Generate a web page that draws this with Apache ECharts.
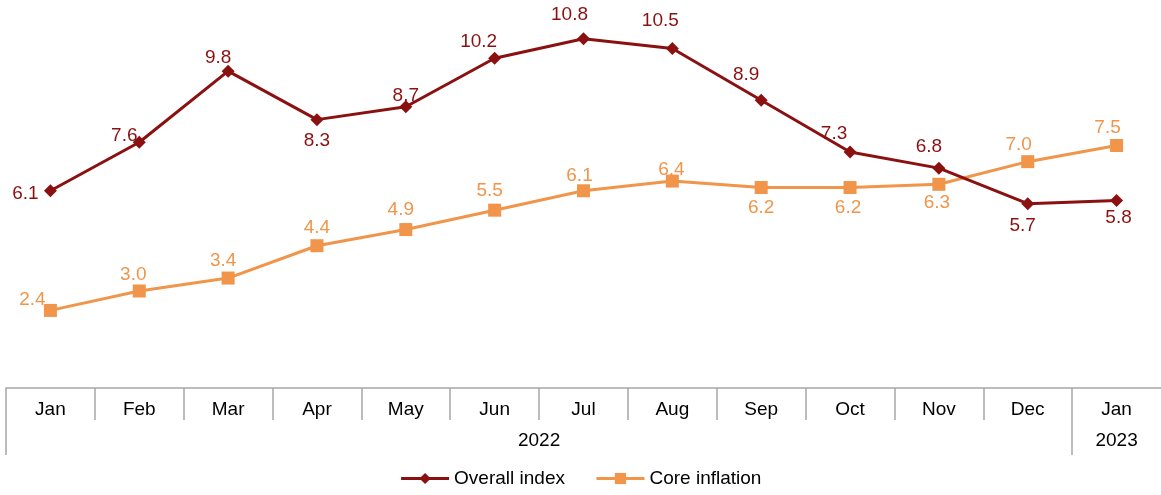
<!DOCTYPE html>
<html>
<head>
<meta charset="utf-8">
<script src="https://cdn.jsdelivr.net/npm/echarts@6/dist/echarts.min.js"></script>
<style>
  html, body { margin: 0; padding: 0; background: #fff; }
  #chart { width: 1161px; height: 495px; }
</style>
</head>
<body>
<div id="chart"></div>
<script>
const months = ["Jan", "Feb", "Mar", "Apr", "May", "Jun", "Jul", "Aug", "Sep", "Oct", "Nov", "Dec", "Jan"];
const overallIndex = [6.1, 7.6, 9.8, 8.3, 8.7, 10.2, 10.8, 10.5, 8.9, 7.3, 6.8, 5.7, 5.8];
const coreInflation = [2.4, 3.0, 3.4, 4.4, 4.9, 5.5, 6.1, 6.4, 6.2, 6.2, 6.3, 7.0, 7.5];

// label shift from each point, [dx, dy] in px (labels were hand placed in the original)
const overallShift = [[-25, 0], [-15, -10], [-10, -16], [0, 18], [0, -14], [-16, -19], [-14, -27],
  [-12, -31], [-15, -28], [-16, -21], [-10, -24], [-5, 19], [2, 14]];
const coreShift = [[-18, -14], [-6, -19], [-5, -20], [0, -21], [-5, -23], [-5, -22], [-4, -18],
  [-1, -14], [0, 17], [-2, 17], [-2, 15], [-9, -20], [-9, -21]];

// half-step slots from -0.5 to 12.5, used for the table lines and the year row
const yearSlots = [];
for (let i = 0; i < 27; i++) yearSlots.push("");
yearSlots[12] = "2022";
yearSlots[25] = "2023";

const red = "#8B1111";
const orange = "#F0954A";
const gray = "#a6a6a6";
const font = "Liberation Sans, Arial, sans-serif";

function withLabels(values, shift) {
  // +3: text box middle sits a little above the digits' visual centre
  return values.map((v, i) => ({
    value: v,
    label: { position: "inside", offset: [shift[i][0], shift[i][1] + 3] }
  }));
}

const chart = echarts.init(document.getElementById("chart"));
chart.setOption({
  animation: false,
  textStyle: { fontFamily: font },
  grid: { left: 6, right: 0, top: 0, bottom: 107, containLabel: false },
  legend: {
    bottom: 2,
    left: "center",
    itemWidth: 48,
    itemHeight: 14,
    itemGap: 30,
    lineStyle: { width: 3 },
    textStyle: { fontSize: 19, color: "#000", fontFamily: font },
    data: ["Overall index", "Core inflation"]
  },
  xAxis: [
    {
      type: "category",
      data: months,
      boundaryGap: true,
      axisLine: { lineStyle: { color: gray, width: 1.5 } },
      axisTick: { show: false },
      axisLabel: { color: "#000", fontSize: 19, margin: 12, interval: 0, fontFamily: font }
    },
    {
      // month cell separators (no line at the right end)
      type: "category",
      data: yearSlots,
      position: "bottom",
      boundaryGap: false,
      axisLine: { show: false },
      axisTick: {
        show: true,
        length: 32,
        interval: (i) => i % 2 === 0 && i < 26,
        lineStyle: { color: gray, width: 1.5 }
      },
      axisLabel: { show: false }
    },
    {
      // year row
      type: "category",
      data: yearSlots,
      position: "bottom",
      boundaryGap: false,
      axisLine: { show: false },
      axisTick: {
        show: true,
        length: 67,
        interval: (i) => i === 0 || i === 24,
        lineStyle: { color: gray, width: 1.5 }
      },
      axisLabel: {
        color: "#000", fontSize: 19, margin: 43, fontFamily: font,
        interval: (i) => i === 12 || i === 25
      }
    }
  ],
  yAxis: {
    type: "value",
    min: 0,
    max: 12,
    show: false,
    splitLine: { show: false }
  },
  series: [
    {
      name: "Overall index",
      type: "line",
      data: withLabels(overallIndex, overallShift),
      symbol: "diamond",
      symbolSize: 13,
      lineStyle: { color: red, width: 3 },
      itemStyle: { color: red },
      label: { show: true, color: red, fontSize: 19, fontFamily: font,
        formatter: (p) => p.value.toFixed(1) },
      z: 3
    },
    {
      name: "Core inflation",
      type: "line",
      data: withLabels(coreInflation, coreShift),
      symbol: "rect",
      symbolSize: 13,
      lineStyle: { color: orange, width: 3 },
      itemStyle: { color: orange },
      label: { show: true, color: orange, fontSize: 19, fontFamily: font,
        formatter: (p) => p.value.toFixed(1) },
      z: 2
    }
  ]
});
</script>
</body>
</html>
